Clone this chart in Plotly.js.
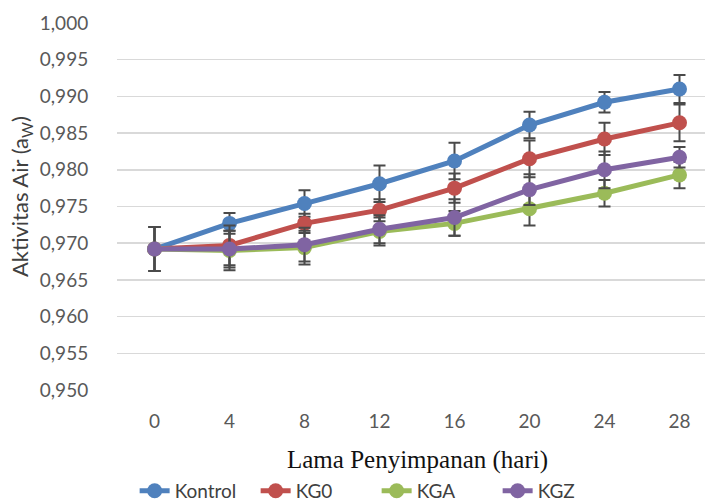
<!DOCTYPE html>
<html>
<head>
<meta charset="utf-8">
<script src="https://cdn.plot.ly/plotly-3.0.1.min.js"></script>
<style>html,body{margin:0;padding:0;background:#fff;}#chart{width:705px;height:504px;}</style>
</head>
<body>
<div id="chart"></div>
<script>
const days = [0, 4, 8, 12, 16, 20, 24, 28];
const seriesNames = ["Kontrol", "KG0", "KGA", "KGZ"];
const kontrol = [0.9692, 0.9727, 0.9754, 0.9781, 0.9812, 0.9861, 0.9892, 0.9910];
const kontrolErr = [0.0030, 0.0014, 0.0018, 0.0025, 0.0025, 0.0018, 0.0014, 0.0019];
const kg0 = [0.9692, 0.9697, 0.9727, 0.9745, 0.9775, 0.9815, 0.9842, 0.9864];
const kg0Err = [0.0030, 0.0027, 0.0013, 0.0015, 0.0020, 0.0025, 0.0022, 0.0025];
const kga = [0.9692, 0.9690, 0.9694, 0.9716, 0.9727, 0.9747, 0.9768, 0.9793];
const kgaErr = [0.0030, 0.0027, 0.0023, 0.0019, 0.0017, 0.0023, 0.0018, 0.0018];
const kgz = [0.9692, 0.9692, 0.9698, 0.9719, 0.9735, 0.9773, 0.9800, 0.9817];
const kgzErr = [0.0030, 0.0025, 0.0023, 0.0019, 0.0025, 0.0021, 0.0025, 0.0014];
const yTicks = [0.950, 0.955, 0.960, 0.965, 0.970, 0.975, 0.980, 0.985, 0.990, 0.995, 1.000];
const colors = ["#4F81BD", "#C0504D", "#9BBB59", "#8064A2"];

const values = [kontrol, kg0, kga, kgz];
const errs = [kontrolErr, kg0Err, kgaErr, kgzErr];

const traces = values.map((v, i) => ({
  type: "scatter",
  mode: "lines+markers",
  name: seriesNames[i],
  x: days,
  y: v,
  line: {color: colors[i], width: 5},
  marker: {color: colors[i], size: 15},
  error_y: {type: "data", array: errs[i], visible: true, color: "#4a4a4a", thickness: 2, width: 6}
}));

const layout = {
  width: 705, height: 504,
  margin: {l: 117, r: 0, t: 23, b: 114, autoexpand: false},
  paper_bgcolor: "#fff", plot_bgcolor: "#fff",
  separators: ",.",
  font: {family: "Lato, 'Open Sans', sans-serif", size: 19, color: "#595959"},
  xaxis: {
    range: [-2, 29.36], tickvals: days, ticktext: days.map(String),
    showgrid: false, zeroline: false, showline: false,
    ticks: "outside", ticklen: 14, tickcolor: "rgba(0,0,0,0)",
    tickfont: {size: 19, color: "#595959"}, automargin: false
  },
  yaxis: {
    range: [0.950, 1.000], tickvals: yTicks, tickformat: ".3f",
    showgrid: true, gridcolor: "#D9D9D9", gridwidth: 1.5,
    zeroline: false, showline: false,
    ticks: "outside", ticklen: 24, tickcolor: "rgba(0,0,0,0)",
    tickfont: {size: 19, color: "#595959"}, automargin: false
  },
  annotations: [{
    text: "Lama Penyimpanan (hari)", xref: "x", yref: "paper", x: 14, y: -0.19,
    xanchor: "center", yanchor: "middle", showarrow: false,
    font: {family: "'Liberation Serif', 'Times New Roman', serif", size: 25, color: "#111"}
  }, {
    text: "Aktivitas Air (a<sub>W</sub>)", xref: "paper", yref: "paper", x: -0.163, y: 0.526,
    xanchor: "center", yanchor: "middle", textangle: -90, showarrow: false,
    font: {size: 22, color: "#404040"}
  }],
  showlegend: true,
  legend: {
    orientation: "h", x: 0.03, xanchor: "left", y: -0.275, yanchor: "middle",
    entrywidth: 76, entrywidthmode: "pixels",
    font: {size: 19, color: "#404040"}, itemclick: false
  }
};

Plotly.newPlot("chart", traces, layout, {staticPlot: true});
</script>
</body>
</html>
